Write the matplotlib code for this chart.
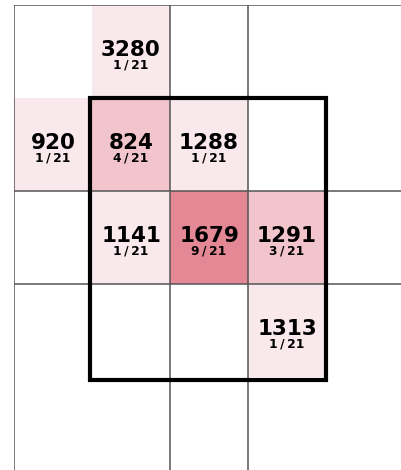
import matplotlib
matplotlib.use("Agg")
import matplotlib.pyplot as plt
from matplotlib.patches import Rectangle

# cell data: (column, row) positions in the grid, value, count out of total
cols = [1, 0, 1, 2, 1, 2, 3, 3]
rows = [0, 1, 1, 1, 2, 2, 2, 3]
values = [3280, 920, 824, 1288, 1141, 1679, 1291, 1313]
counts = [1, 1, 4, 1, 1, 9, 3, 1]
total = 21

W, H = 401, 470
fig = plt.figure(figsize=(W / 100, H / 100), dpi=100)
ax_left, ax_top = 14, 5
cw, ch = 78, 93
ax = fig.add_axes([ax_left / W, 0, (W - ax_left) / W, (H - ax_top) / H])
ax.set_xlim(0, (W - ax_left) / cw)
ax.set_ylim((H - ax_top) / ch, 0)
ax.axis("off")


def shade(c):
    if c >= 5:
        return "#e48895"
    if c >= 3:
        return "#f2c4cb"
    return "#f9e9ec"


for c, r, v, n in zip(cols, rows, values, counts):
    ax.add_patch(Rectangle((c, r), 1, 1, facecolor=shade(n), edgecolor="none", zorder=1))
    ax.text(c + 0.5, r + 0.48, str(v), ha="center", va="center", fontsize=15.5,
            fontweight="bold", family="DejaVu Sans", color="#000000", zorder=4)
    ax.text(c + 0.5, r + 0.645, f"{n}\u2009/\u2009{total}", ha="center", va="center",
            fontsize=8.8, fontweight="bold", family="DejaVu Sans", color="#000000", zorder=4)

# grid lines
gkw = dict(color="#555555", linewidth=1.1, zorder=2)
ymax = (H - ax_top) / ch
xmax = (W - ax_left) / cw
for x in [0, 2, 3]:
    ax.plot([x, x], [0, ymax], **gkw)
for y in [0, 2, 3]:
    ax.plot([0, xmax], [y, y], **gkw)

# highlight box
ax.add_patch(Rectangle((0.97, 0.995), 3.025, 3.035, facecolor="none",
                       edgecolor="black", linewidth=3, zorder=3))

fig.savefig("out.png", dpi=100)
